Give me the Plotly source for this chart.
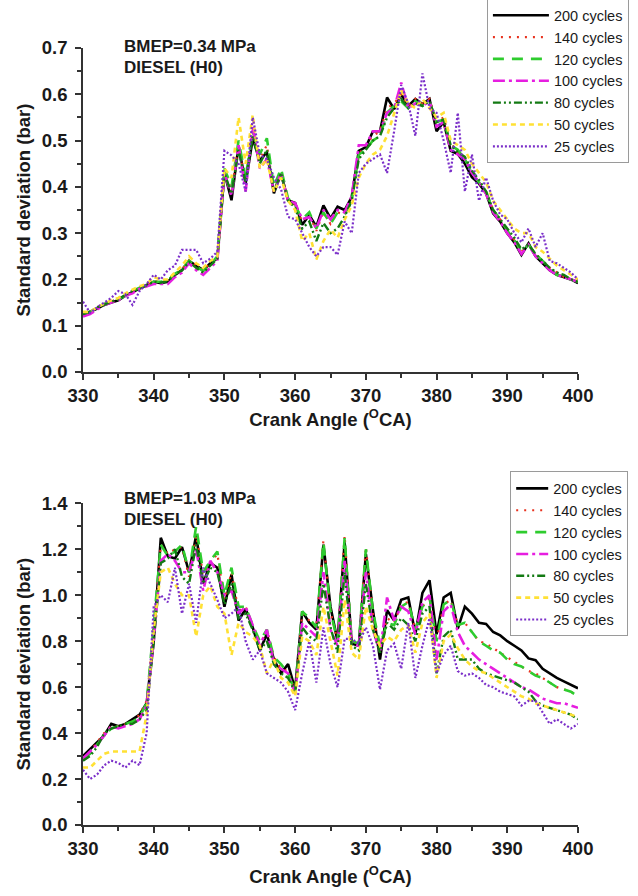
import plotly.graph_objects as go

# Crank angle grid (degrees CA)
CRANK_ANGLE = list(range(330, 401))

SERIES_NAMES = ["200 cycles", "140 cycles", "120 cycles", "100 cycles",
                "80 cycles", "50 cycles", "25 cycles"]

# ---- BMEP = 0.34 MPa : standard deviation of cylinder pressure (bar) ----
LOW_200 = [0.125, 0.13, 0.137, 0.145, 0.15, 0.155, 0.165, 0.172, 0.18, 0.188,
           0.195, 0.192, 0.195, 0.21, 0.22, 0.24, 0.23, 0.22, 0.235, 0.245,
           0.43, 0.371, 0.489, 0.407, 0.504, 0.457, 0.475, 0.386, 0.428, 0.371,
           0.365, 0.318, 0.339, 0.314, 0.36, 0.332, 0.357, 0.35, 0.378, 0.478,
           0.486, 0.52, 0.52, 0.593, 0.568, 0.60, 0.575, 0.59, 0.579, 0.59,
           0.52, 0.54, 0.478, 0.471, 0.45, 0.421, 0.407, 0.386, 0.343, 0.325,
           0.30, 0.28, 0.253, 0.278, 0.25, 0.235, 0.22, 0.21, 0.205, 0.20,
           0.192]
LOW_140 = [0.125, 0.13, 0.14, 0.147, 0.152, 0.158, 0.167, 0.175, 0.182, 0.19,
           0.196, 0.196, 0.20, 0.212, 0.222, 0.242, 0.23, 0.22, 0.235, 0.25,
           0.44, 0.39, 0.49, 0.41, 0.52, 0.46, 0.49, 0.39, 0.43, 0.37,
           0.36, 0.325, 0.34, 0.305, 0.345, 0.32, 0.345, 0.34, 0.37, 0.47,
           0.49, 0.51, 0.52, 0.57, 0.58, 0.60, 0.575, 0.59, 0.58, 0.59,
           0.54, 0.55, 0.495, 0.475, 0.46, 0.43, 0.41, 0.39, 0.35, 0.33,
           0.305, 0.285, 0.26, 0.275, 0.255, 0.24, 0.225, 0.215, 0.205, 0.20,
           0.195]
LOW_120 = [0.125, 0.13, 0.14, 0.147, 0.152, 0.157, 0.165, 0.175, 0.182, 0.19,
           0.195, 0.195, 0.198, 0.212, 0.222, 0.24, 0.228, 0.218, 0.232, 0.25,
           0.44, 0.40, 0.50, 0.42, 0.52, 0.47, 0.505, 0.40, 0.44, 0.375,
           0.36, 0.33, 0.345, 0.31, 0.345, 0.32, 0.345, 0.34, 0.37, 0.47,
           0.48, 0.50, 0.51, 0.56, 0.575, 0.585, 0.57, 0.585, 0.575, 0.585,
           0.54, 0.545, 0.49, 0.48, 0.46, 0.43, 0.41, 0.39, 0.35, 0.33,
           0.305, 0.285, 0.26, 0.275, 0.255, 0.24, 0.225, 0.21, 0.205, 0.20,
           0.195]
LOW_100 = [0.12, 0.125, 0.135, 0.145, 0.15, 0.155, 0.165, 0.17, 0.18, 0.185,
           0.19, 0.19, 0.19, 0.205, 0.215, 0.235, 0.22, 0.21, 0.225, 0.24,
           0.43, 0.38, 0.49, 0.39, 0.53, 0.44, 0.46, 0.39, 0.43, 0.37,
           0.365, 0.33, 0.335, 0.31, 0.35, 0.33, 0.35, 0.345, 0.38, 0.49,
           0.49, 0.52, 0.52, 0.56, 0.57, 0.625, 0.57, 0.58, 0.575, 0.585,
           0.53, 0.54, 0.48, 0.47, 0.46, 0.43, 0.41, 0.385, 0.345, 0.325,
           0.30, 0.28, 0.255, 0.275, 0.25, 0.235, 0.22, 0.21, 0.205, 0.20,
           0.195]
LOW_80 = [0.125, 0.13, 0.14, 0.145, 0.152, 0.157, 0.167, 0.175, 0.18, 0.188,
          0.195, 0.193, 0.197, 0.21, 0.22, 0.238, 0.225, 0.215, 0.23, 0.245,
          0.43, 0.385, 0.48, 0.41, 0.51, 0.45, 0.48, 0.39, 0.43, 0.37,
          0.355, 0.31, 0.325, 0.283, 0.322, 0.30, 0.31, 0.336, 0.37, 0.46,
          0.48, 0.50, 0.51, 0.55, 0.57, 0.59, 0.57, 0.58, 0.575, 0.585,
          0.54, 0.545, 0.49, 0.475, 0.465, 0.435, 0.415, 0.39, 0.35, 0.33,
          0.31, 0.29, 0.265, 0.275, 0.255, 0.24, 0.225, 0.215, 0.21, 0.20,
          0.195]
LOW_50 = [0.13, 0.13, 0.14, 0.148, 0.155, 0.16, 0.17, 0.178, 0.185, 0.19,
          0.205, 0.20, 0.20, 0.215, 0.23, 0.25, 0.235, 0.225, 0.24, 0.25,
          0.44, 0.42, 0.55, 0.45, 0.555, 0.44, 0.46, 0.39, 0.42, 0.37,
          0.35, 0.283, 0.30, 0.243, 0.283, 0.308, 0.29, 0.329, 0.36, 0.42,
          0.45, 0.47, 0.48, 0.51, 0.56, 0.608, 0.58, 0.57, 0.59, 0.57,
          0.55, 0.56, 0.50, 0.49, 0.48, 0.45, 0.43, 0.41, 0.37, 0.35,
          0.33, 0.31, 0.30, 0.30, 0.27, 0.26, 0.245, 0.23, 0.22, 0.21,
          0.20]
LOW_25 = [0.152, 0.128, 0.14, 0.15, 0.16, 0.175, 0.168, 0.145, 0.175, 0.19,
          0.21, 0.20, 0.22, 0.23, 0.264, 0.264, 0.264, 0.235, 0.245, 0.26,
          0.478, 0.468, 0.45, 0.39, 0.55, 0.47, 0.46, 0.42, 0.395, 0.335,
          0.33, 0.30, 0.27, 0.25, 0.27, 0.27, 0.253, 0.325, 0.30, 0.43,
          0.45, 0.46, 0.47, 0.43, 0.52, 0.62, 0.58, 0.51, 0.645, 0.57,
          0.56, 0.50, 0.43, 0.56, 0.39, 0.47, 0.37, 0.42, 0.37, 0.34,
          0.33, 0.30, 0.28, 0.31, 0.27, 0.30, 0.24, 0.235, 0.225, 0.215,
          0.20]

# ---- BMEP = 1.03 MPa : standard deviation of cylinder pressure (bar) ----
HIGH_200 = [0.30, 0.33, 0.36, 0.39, 0.44, 0.43, 0.44, 0.46, 0.48, 0.53,
            0.80, 1.25, 1.17, 1.16, 1.21, 1.10, 1.26, 1.05, 1.14, 1.12,
            0.95, 1.09, 0.89, 0.94, 0.86, 0.76, 0.83, 0.72, 0.66, 0.70,
            0.59, 0.93, 0.88, 0.85, 1.22, 0.95, 0.80, 1.23, 0.79, 0.78,
            1.18, 0.935, 0.72, 0.935, 0.89, 0.98, 0.99, 0.83, 1.01, 1.065,
            0.83, 0.99, 1.01, 0.855, 0.95, 0.92, 0.88, 0.875, 0.84, 0.825,
            0.80, 0.78, 0.76, 0.725, 0.717, 0.68, 0.66, 0.64, 0.625, 0.61,
            0.595]
HIGH_140 = [0.29, 0.32, 0.36, 0.40, 0.43, 0.43, 0.44, 0.45, 0.48, 0.54,
            0.85, 1.22, 1.18, 1.20, 1.21, 1.08, 1.26, 1.09, 1.14, 1.18,
            0.98, 1.10, 0.93, 0.95, 0.86, 0.78, 0.85, 0.73, 0.68, 0.67,
            0.58, 0.92, 0.89, 0.86, 1.24, 0.93, 0.80, 1.26, 0.80, 0.79,
            1.21, 0.92, 0.76, 0.90, 0.88, 0.96, 0.97, 0.85, 0.95, 0.99,
            0.80, 0.96, 0.98, 0.87, 0.88, 0.84, 0.80, 0.79, 0.77, 0.75,
            0.73, 0.71, 0.69, 0.67, 0.66, 0.64, 0.62, 0.60, 0.59, 0.58,
            0.56]
HIGH_120 = [0.29, 0.31, 0.35, 0.39, 0.42, 0.43, 0.44, 0.45, 0.47, 0.53,
            0.87, 1.22, 1.17, 1.19, 1.22, 1.10, 1.30, 1.10, 1.15, 1.19,
            1.00, 1.12, 0.95, 0.95, 0.87, 0.80, 0.85, 0.73, 0.70, 0.66,
            0.58, 0.93, 0.90, 0.86, 1.23, 0.93, 0.80, 1.25, 0.80, 0.79,
            1.20, 0.93, 0.78, 0.88, 0.87, 0.95, 0.97, 0.85, 0.95, 0.99,
            0.80, 0.96, 0.98, 0.87, 0.88, 0.84, 0.80, 0.78, 0.76, 0.75,
            0.72, 0.70, 0.69, 0.67, 0.65, 0.64, 0.62, 0.60, 0.59, 0.58,
            0.56]
HIGH_100 = [0.29, 0.32, 0.35, 0.39, 0.43, 0.42, 0.43, 0.44, 0.46, 0.52,
            0.80, 1.15, 1.18, 1.15, 1.10, 1.10, 1.20, 1.02, 1.15, 1.10,
            1.00, 1.02, 0.92, 0.95, 0.87, 0.78, 0.85, 0.70, 0.68, 0.66,
            0.57, 0.88, 0.85, 0.82, 1.10, 0.85, 0.78, 1.15, 0.79, 0.78,
            1.10, 0.85, 0.75, 0.99, 0.89, 0.95, 0.93, 0.83, 0.97, 1.00,
            0.72, 0.93, 0.96, 0.84, 0.78, 0.75, 0.72, 0.70, 0.68, 0.66,
            0.64, 0.62, 0.60, 0.59, 0.57, 0.55, 0.54, 0.53, 0.53, 0.52,
            0.51]
HIGH_80 = [0.28, 0.30, 0.34, 0.40, 0.42, 0.43, 0.44, 0.44, 0.46, 0.50,
           0.80, 1.14, 1.16, 1.20, 1.08, 1.05, 1.22, 1.05, 1.12, 1.10,
           0.96, 1.05, 0.90, 0.92, 0.85, 0.76, 0.80, 0.70, 0.66, 0.64,
           0.58, 0.86, 0.82, 0.80, 1.05, 0.86, 0.75, 1.10, 0.78, 0.76,
           1.05, 0.85, 0.75, 0.88, 0.85, 0.90, 0.87, 0.80, 0.92, 0.95,
           0.66, 0.82, 0.85, 0.72, 0.72, 0.72, 0.68, 0.66, 0.65, 0.64,
           0.63, 0.62, 0.60, 0.58, 0.54, 0.52, 0.51, 0.50, 0.49, 0.48,
           0.46]
HIGH_50 = [0.25, 0.25, 0.28, 0.31, 0.32, 0.32, 0.32, 0.32, 0.32, 0.48,
           0.85, 1.10, 1.12, 1.05, 1.00, 1.00, 0.82, 1.00, 1.04, 0.95,
           0.92, 0.74, 0.88, 0.84, 0.82, 0.78, 0.66, 0.72, 0.64, 0.62,
           0.56, 0.82, 0.80, 0.74, 0.95, 0.80, 0.65, 0.98, 0.75, 0.72,
           0.95, 0.85, 0.78, 0.82, 0.80, 0.85, 0.87, 0.75, 0.88, 0.92,
           0.64, 0.80, 0.83, 0.77, 0.72, 0.69, 0.67, 0.66, 0.64, 0.62,
           0.60, 0.58, 0.56, 0.55, 0.53, 0.52, 0.51, 0.50, 0.49, 0.48,
           0.47]
HIGH_25 = [0.24, 0.20, 0.22, 0.26, 0.28, 0.27, 0.25, 0.28, 0.26, 0.40,
           0.95, 1.00, 0.97, 1.12, 0.92, 1.05, 0.88, 1.12, 1.05, 0.98,
           0.90, 0.92, 0.95, 0.80, 0.72, 0.76, 0.66, 0.64, 0.62, 0.58,
           0.50, 0.66, 0.80, 0.62, 0.86, 0.70, 0.60, 0.81, 0.81, 0.79,
           0.86, 0.78, 0.59, 0.76, 0.79, 0.68, 0.88, 0.64, 0.78, 0.90,
           0.66, 0.74, 0.78, 0.67, 0.65, 0.66, 0.64, 0.61, 0.60, 0.58,
           0.57, 0.56, 0.52, 0.54, 0.54, 0.49, 0.44, 0.46, 0.44, 0.42,
           0.44]

LOW_SERIES = [LOW_200, LOW_140, LOW_120, LOW_100, LOW_80, LOW_50, LOW_25]
HIGH_SERIES = [HIGH_200, HIGH_140, HIGH_120, HIGH_100, HIGH_80, HIGH_50, HIGH_25]

# Line styles per cycle count
LINE_STYLES = [
    dict(color="#000000", width=2.6, dash="solid"),
    dict(color="#e8321e", width=2.2, dash="2px,6px"),
    dict(color="#2ecc2e", width=2.6, dash="11px,8px"),
    dict(color="#e61ee0", width=2.6, dash="12px,4px,3px,4px"),
    dict(color="#137a13", width=2.4, dash="8px,3px,2px,3px,2px,3px"),
    dict(color="#ffe135", width=2.6, dash="5px,4px"),
    dict(color="#7b2fc9", width=2.2, dash="2px,2px"),
]

FONT = "Liberation Sans, Arial, sans-serif"

fig = go.Figure()
for name, ys, style in zip(SERIES_NAMES, LOW_SERIES, LINE_STYLES):
    fig.add_trace(go.Scatter(x=CRANK_ANGLE, y=ys, mode="lines", name=name,
                             line=style, xaxis="x", yaxis="y", legend="legend"))
for name, ys, style in zip(SERIES_NAMES, HIGH_SERIES, LINE_STYLES):
    fig.add_trace(go.Scatter(x=CRANK_ANGLE, y=ys, mode="lines", name=name,
                             line=style, xaxis="x2", yaxis="y2", legend="legend2"))

tick_font = dict(family=FONT, size=18.5, color="#1a1a1a", weight="bold")
title_font = dict(family=FONT, size=18.5, color="#1a1a1a", weight="bold")


def x_axis(anchor, standoff):
    return dict(anchor=anchor, domain=[0, 1], range=[330, 400], tick0=330, dtick=10,
                ticks="outside", ticklen=6, tickwidth=1.5, tickcolor="#333",
                minor=dict(dtick=5, ticks="outside", ticklen=4, tickwidth=1.5,
                           tickcolor="#333"),
                showline=True, linewidth=1.5, linecolor="#333", showgrid=False,
                zeroline=False, tickfont=tick_font,
                title=dict(text="Crank Angle (<sup>O</sup>CA)", font=title_font,
                           standoff=standoff))


def y_axis(anchor, domain, top, step):
    return dict(anchor=anchor, domain=domain, range=[0, top], tick0=0, dtick=step,
                tickformat=".1f", ticks="outside", ticklen=6, tickwidth=1.5,
                tickcolor="#333", ticklabelstandoff=4,
                minor=dict(dtick=step / 2, ticks="outside", ticklen=4, tickwidth=1.5,
                           tickcolor="#333"),
                showline=True, linewidth=1.5, linecolor="#333", showgrid=False,
                zeroline=False, tickfont=tick_font,
                title=dict(text="Standard deviation (bar)", font=title_font,
                           standoff=6))


legend_common = dict(xref="paper", yref="paper", xanchor="left", yanchor="top",
                     bgcolor="white", bordercolor="#9a9a9a", borderwidth=1,
                     font=dict(family=FONT, size=14.5, color="#1a1a1a"),
                     tracegroupgap=0)

annotation_font = dict(family=FONT, size=17, color="#1a1a1a", weight="bold")
annotations = []
for text, y in [("BMEP=0.34 MPa", 1.0013), ("DIESEL (H0)", 0.9743),
                ("BMEP=1.03 MPa", 0.4205), ("DIESEL (H0)", 0.3935)]:
    annotations.append(dict(text=text, x=0.078, y=y, xref="paper", yref="paper",
                            xanchor="left", yanchor="middle", showarrow=False,
                            font=annotation_font))

fig.update_layout(
    width=638, height=896,
    margin=dict(l=83, r=60, t=48, b=71, autoexpand=False),
    paper_bgcolor="white", plot_bgcolor="white",
    xaxis=x_axis("y", 3),
    yaxis=y_axis("x", [0.583, 1.0], 0.7, 0.1),
    xaxis2=x_axis("y2", 12),
    yaxis2=y_axis("x2", [0.0, 0.414], 1.4, 0.2),
    legend=dict(x=0.816, y=1.064, itemwidth=56, **legend_common),
    legend2=dict(x=0.863, y=0.455, itemwidth=32, **legend_common),
    annotations=annotations,
    showlegend=True,
)

fig.write_html("out.html")
